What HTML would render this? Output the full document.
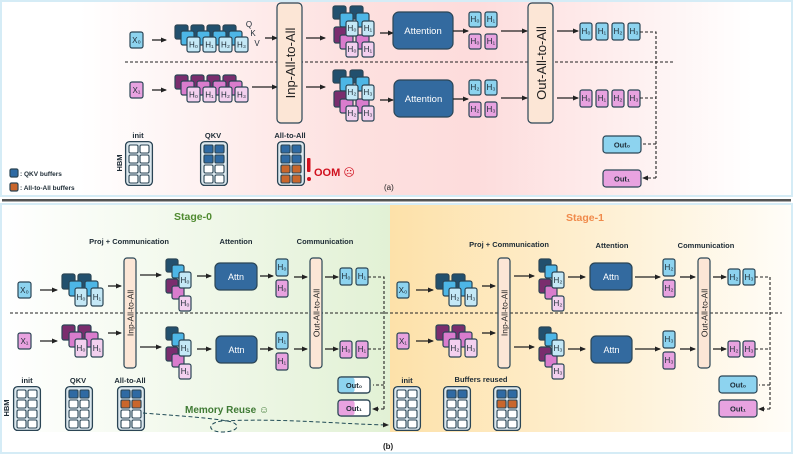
<!DOCTYPE html>
<html><head><meta charset="utf-8"><style>
html,body{margin:0;padding:0;background:#fff}
svg{display:block;font-family:"Liberation Sans","DejaVu Sans",sans-serif}
.b{stroke:#2b4555;stroke-width:1.2}
.t{font-size:8px;fill:#1d2b35;text-anchor:middle}
.lb{font-size:7.5px;font-weight:bold;fill:#1d2b35;text-anchor:middle}
.ar{stroke:#222;stroke-width:1.3;fill:none;marker-end:url(#ah)}
.da{stroke:#222;stroke-width:1.1;fill:none;stroke-dasharray:3,2}
</style></head><body>
<svg width="793" height="454" viewBox="0 0 793 454" xmlns="http://www.w3.org/2000/svg">
<defs>
<marker id="ah" markerWidth="6" markerHeight="6" refX="5" refY="3" orient="auto" markerUnits="userSpaceOnUse"><path d="M0,0.5 L6,3 L0,5.5z" fill="#222"/></marker>
<linearGradient id="pk" x1="0" x2="1" y1="0" y2="0"><stop offset="0.1" stop-color="#fff"/><stop offset="0.45" stop-color="#fde0df"/><stop offset="0.6" stop-color="#fddcdc"/><stop offset="0.95" stop-color="#fff"/></linearGradient>
<linearGradient id="gr" x1="0" x2="1"><stop offset="0" stop-color="#fff"/><stop offset="1" stop-color="#e2f1d5"/></linearGradient>
<linearGradient id="or" x1="0" x2="1"><stop offset="0" stop-color="#fde1a9"/><stop offset="1" stop-color="#fffdf8"/></linearGradient>
<symbol id="grid" width="28" height="45" viewBox="0 0 28 45" overflow="visible">
<rect x="0.6" y="0.6" width="26.8" height="43.8" rx="4" fill="#dce8ee" stroke="#2b4555" stroke-width="1.3"/>
<g fill="#fff" stroke="#2b4555" stroke-width="1.1">
<rect x="4" y="4" width="9" height="8" rx="1.5"/><rect x="15" y="4" width="9" height="8" rx="1.5"/>
<rect x="4" y="14" width="9" height="8" rx="1.5"/><rect x="15" y="14" width="9" height="8" rx="1.5"/>
<rect x="4" y="24" width="9" height="8" rx="1.5"/><rect x="15" y="24" width="9" height="8" rx="1.5"/>
<rect x="4" y="34" width="9" height="8" rx="1.5"/><rect x="15" y="34" width="9" height="8" rx="1.5"/>
</g></symbol>
</defs>

<rect x="1" y="1" width="791" height="195" fill="url(#pk)" stroke="#d5ecf6" stroke-width="2"/>
<rect x="2" y="199" width="789" height="2.5" fill="#555"/>
<rect x="1" y="204" width="791" height="249" fill="#fff" stroke="#d5ecf6" stroke-width="2"/>
<rect x="2" y="205" width="388" height="227" fill="url(#gr)"/>
<rect x="390" y="205" width="401" height="227" fill="url(#or)"/>

<!-- ===== (a) ===== -->
<line x1="125" y1="62" x2="675" y2="62" class="da" stroke-dasharray="4,2"/>
<rect x="130" y="32" width="13" height="16" rx="2" fill="#8dd3ef" class="b"/><text x="136.5" y="43" class="t">X₀</text>
<rect x="130" y="82" width="13" height="16" rx="2" fill="#e8a2e0" class="b"/><text x="136.5" y="93" class="t">X₁</text>
<line x1="152" y1="40" x2="166" y2="40" class="ar"/><line x1="152" y1="90" x2="166" y2="90" class="ar"/>
<g class="b">
<rect x="175" y="25" width="13" height="14" rx="2" fill="#22506e"/><rect x="191" y="25" width="13" height="14" rx="2" fill="#22506e"/><rect x="207" y="25" width="13" height="14" rx="2" fill="#22506e"/><rect x="223" y="25" width="13" height="14" rx="2" fill="#22506e"/>
<rect x="181" y="31" width="13" height="14" rx="2" fill="#4db6e6"/><rect x="197" y="31" width="13" height="14" rx="2" fill="#4db6e6"/><rect x="213" y="31" width="13" height="14" rx="2" fill="#4db6e6"/><rect x="229" y="31" width="13" height="14" rx="2" fill="#4db6e6"/>
<rect x="187" y="37" width="13" height="15" rx="2" fill="#c4e8f6"/><rect x="203" y="37" width="13" height="15" rx="2" fill="#c4e8f6"/><rect x="219" y="37" width="13" height="15" rx="2" fill="#c4e8f6"/><rect x="235" y="37" width="13" height="15" rx="2" fill="#c4e8f6"/>
<rect x="175" y="75" width="13" height="14" rx="2" fill="#7a2d6e"/><rect x="191" y="75" width="13" height="14" rx="2" fill="#7a2d6e"/><rect x="207" y="75" width="13" height="14" rx="2" fill="#7a2d6e"/><rect x="223" y="75" width="13" height="14" rx="2" fill="#7a2d6e"/>
<rect x="181" y="81" width="13" height="14" rx="2" fill="#d97ccd"/><rect x="197" y="81" width="13" height="14" rx="2" fill="#d97ccd"/><rect x="213" y="81" width="13" height="14" rx="2" fill="#d97ccd"/><rect x="229" y="81" width="13" height="14" rx="2" fill="#d97ccd"/>
<rect x="187" y="87" width="13" height="15" rx="2" fill="#f3d0ef"/><rect x="203" y="87" width="13" height="15" rx="2" fill="#f3d0ef"/><rect x="219" y="87" width="13" height="15" rx="2" fill="#f3d0ef"/><rect x="235" y="87" width="13" height="15" rx="2" fill="#f3d0ef"/>
</g>
<text x="193.5" y="47.5" class="t">H₀</text><text x="209.5" y="47.5" class="t">H₁</text><text x="225.5" y="47.5" class="t">H₂</text><text x="241.5" y="47.5" class="t">H₃</text>
<text x="193.5" y="97.5" class="t">H₀</text><text x="209.5" y="97.5" class="t">H₁</text><text x="225.5" y="97.5" class="t">H₂</text><text x="241.5" y="97.5" class="t">H₃</text>
<text x="249" y="27" class="t" font-size="7.5">Q</text><text x="253" y="36" class="t" font-size="7.5">K</text><text x="257" y="46" class="t" font-size="7.5">V</text>
<line x1="265" y1="38" x2="277" y2="38" class="ar"/><line x1="252" y1="87" x2="277" y2="87" class="ar"/>
<rect x="277" y="3" width="25" height="120" rx="4" fill="#fce6d6" class="b"/>
<text transform="translate(295,63) rotate(-90)" font-size="13" fill="#222" text-anchor="middle">Inp-All-to-All</text>
<line x1="306" y1="38" x2="325" y2="38" class="ar"/><line x1="306" y1="87" x2="325" y2="87" class="ar"/>
<g class="b">
<rect x="333" y="6" width="13" height="13" rx="2" fill="#22506e"/><rect x="350" y="6" width="13" height="13" rx="2" fill="#22506e"/>
<rect x="340" y="13" width="13" height="14" rx="2" fill="#4db6e6"/><rect x="356" y="13" width="13" height="14" rx="2" fill="#4db6e6"/>
<rect x="334" y="27" width="13" height="16" rx="2" fill="#7a2d6e"/><rect x="340" y="35" width="13" height="14" rx="2" fill="#d97ccd"/><rect x="356" y="35" width="13" height="14" rx="2" fill="#d97ccd"/>
<rect x="346" y="21" width="12" height="15" rx="2" fill="#c4e8f6"/><rect x="362" y="21" width="12" height="15" rx="2" fill="#c4e8f6"/>
<rect x="346" y="42" width="12" height="15" rx="2" fill="#f3d0ef"/><rect x="362" y="42" width="12" height="15" rx="2" fill="#f3d0ef"/>
<rect x="333" y="70" width="13" height="13" rx="2" fill="#22506e"/><rect x="350" y="70" width="13" height="13" rx="2" fill="#22506e"/>
<rect x="340" y="77" width="13" height="14" rx="2" fill="#4db6e6"/><rect x="356" y="77" width="13" height="14" rx="2" fill="#4db6e6"/>
<rect x="334" y="91" width="13" height="16" rx="2" fill="#7a2d6e"/><rect x="340" y="99" width="13" height="14" rx="2" fill="#d97ccd"/><rect x="356" y="99" width="13" height="14" rx="2" fill="#d97ccd"/>
<rect x="346" y="85" width="12" height="15" rx="2" fill="#c4e8f6"/><rect x="362" y="85" width="12" height="15" rx="2" fill="#c4e8f6"/>
<rect x="346" y="106" width="12" height="15" rx="2" fill="#f3d0ef"/><rect x="362" y="106" width="12" height="15" rx="2" fill="#f3d0ef"/>
</g>
<text x="352" y="31" class="t">H₀</text><text x="368" y="31" class="t">H₁</text><text x="352" y="52" class="t">H₀</text><text x="368" y="52" class="t">H₁</text>
<text x="352" y="95" class="t">H₂</text><text x="368" y="95" class="t">H₃</text><text x="352" y="116" class="t">H₂</text><text x="368" y="116" class="t">H₃</text>
<line x1="380" y1="33" x2="393" y2="33" class="ar"/><line x1="380" y1="100" x2="393" y2="100" class="ar"/>
<rect x="393" y="12" width="60" height="37" rx="6" fill="#336a9f" class="b"/><text x="423" y="34" font-size="9.5" fill="#fff" text-anchor="middle">Attention</text>
<rect x="394" y="80" width="59" height="37" rx="6" fill="#336a9f" class="b"/><text x="423.5" y="102" font-size="9.5" fill="#fff" text-anchor="middle">Attention</text>
<line x1="453" y1="31" x2="468" y2="31" class="ar"/><line x1="453" y1="99" x2="468" y2="99" class="ar"/>
<g class="b">
<rect x="469" y="12" width="12" height="15" rx="2" fill="#8dd3ef"/><rect x="485" y="12" width="12" height="15" rx="2" fill="#8dd3ef"/>
<rect x="469" y="34" width="12" height="15" rx="2" fill="#e8a2e0"/><rect x="485" y="34" width="12" height="15" rx="2" fill="#e8a2e0"/>
<rect x="469" y="80" width="12" height="15" rx="2" fill="#8dd3ef"/><rect x="485" y="80" width="12" height="15" rx="2" fill="#8dd3ef"/>
<rect x="469" y="102" width="12" height="15" rx="2" fill="#e8a2e0"/><rect x="485" y="102" width="12" height="15" rx="2" fill="#e8a2e0"/>
</g>
<text x="475" y="22" class="t">H₀</text><text x="491" y="22" class="t">H₁</text><text x="475" y="44" class="t">H₀</text><text x="491" y="44" class="t">H₁</text>
<text x="475" y="90" class="t">H₂</text><text x="491" y="90" class="t">H₃</text><text x="475" y="112" class="t">H₂</text><text x="491" y="112" class="t">H₃</text>
<line x1="501" y1="31" x2="527" y2="31" class="ar"/><line x1="501" y1="98" x2="527" y2="98" class="ar"/>
<rect x="528" y="3" width="25" height="120" rx="4" fill="#fce6d6" class="b"/>
<text transform="translate(546,63) rotate(-90)" font-size="13" fill="#222" text-anchor="middle">Out-All-to-All</text>
<line x1="557" y1="31" x2="578" y2="31" class="ar"/><line x1="557" y1="98" x2="578" y2="98" class="ar"/>
<g class="b">
<rect x="580" y="23" width="12" height="17" rx="2" fill="#8dd3ef"/><rect x="596" y="23" width="12" height="17" rx="2" fill="#8dd3ef"/><rect x="612" y="23" width="12" height="17" rx="2" fill="#8dd3ef"/><rect x="628" y="23" width="12" height="17" rx="2" fill="#8dd3ef"/>
<rect x="580" y="90" width="12" height="17" rx="2" fill="#e8a2e0"/><rect x="596" y="90" width="12" height="17" rx="2" fill="#e8a2e0"/><rect x="612" y="90" width="12" height="17" rx="2" fill="#e8a2e0"/><rect x="628" y="90" width="12" height="17" rx="2" fill="#e8a2e0"/>
</g>
<text x="586" y="34" class="t">H₀</text><text x="602" y="34" class="t">H₁</text><text x="618" y="34" class="t">H₂</text><text x="634" y="34" class="t">H₃</text>
<text x="586" y="101" class="t">H₀</text><text x="602" y="101" class="t">H₁</text><text x="618" y="101" class="t">H₂</text><text x="634" y="101" class="t">H₃</text>
<path d="M640,32 H656 V178 M640,98 H656" class="da"/>
<path d="M656,144 H643 M656,178 H643" class="da" marker-end="url(#ah)"/>
<rect x="603" y="136" width="38" height="17" rx="3" fill="#8dd3ef" class="b"/><text x="622" y="147.5" class="lb">Out₀</text>
<rect x="603" y="170" width="38" height="17" rx="3" fill="#e8a2e0" class="b"/><text x="622" y="181.5" class="lb">Out₁</text>
<text x="138" y="138" class="lb" font-size="7">init</text><text x="213" y="138" class="lb" font-size="7">QKV</text><text x="290" y="138" class="lb" font-size="7">All-to-All</text>
<text transform="translate(122,163) rotate(-90)" class="lb" font-size="8">HBM</text>
<use href="#grid" x="125" y="141"/><use href="#grid" x="200" y="141"/><use href="#grid" x="277" y="141"/>
<g fill="#2f6aa3" stroke="#2b4555" stroke-width="1.1">
<rect x="204" y="145" width="9" height="8" rx="1.5"/><rect x="215" y="145" width="9" height="8" rx="1.5"/><rect x="204" y="155" width="9" height="8" rx="1.5"/><rect x="215" y="155" width="9" height="8" rx="1.5"/>
<rect x="281" y="145" width="9" height="8" rx="1.5"/><rect x="292" y="145" width="9" height="8" rx="1.5"/><rect x="281" y="155" width="9" height="8" rx="1.5"/><rect x="292" y="155" width="9" height="8" rx="1.5"/>
<rect x="281" y="165" width="9" height="8" rx="1.5" fill="#c9662c"/><rect x="292" y="165" width="9" height="8" rx="1.5" fill="#c9662c"/><rect x="281" y="175" width="9" height="8" rx="1.5" fill="#c9662c"/><rect x="292" y="175" width="9" height="8" rx="1.5" fill="#c9662c"/>
</g>
<rect x="307" y="158" width="3.5" height="14" rx="1" fill="#d0101e"/><circle cx="309" cy="179" r="2" fill="#d0101e"/>
<text x="314" y="176" font-size="11" font-weight="bold" fill="#d0101e">OOM ☹</text>
<rect x="10" y="169" width="8" height="8" rx="1.5" fill="#2f6aa3" class="b"/><text x="20" y="176" font-size="6.5" font-weight="bold" fill="#1d2b35">: QKV buffers</text>
<rect x="10" y="183" width="8" height="8" rx="1.5" fill="#c9662c" class="b"/><text x="20" y="190" font-size="6.5" font-weight="bold" fill="#1d2b35">: All-to-All buffers</text>
<text x="384" y="190" font-size="8" fill="#222">(a)</text>

<!-- ===== (b) ===== -->
<text x="193" y="220" font-size="10.5" font-weight="bold" fill="#4f8a30" text-anchor="middle">Stage-0</text>
<text x="585" y="221" font-size="10.5" font-weight="bold" fill="#f08a4b" text-anchor="middle">Stage-1</text>
<text x="129" y="244" class="lb">Proj + Communication</text><text x="236" y="244" class="lb">Attention</text><text x="325" y="244" class="lb">Communication</text>
<text x="509" y="247" class="lb">Proj + Communication</text><text x="612" y="248" class="lb">Attention</text><text x="706" y="248" class="lb">Communication</text>
<line x1="10" y1="313" x2="782" y2="313" class="da" stroke-dasharray="4,2"/>

<g>
<rect x="18" y="282" width="13" height="16" rx="2" fill="#8dd3ef" class="b"/><text x="24.5" y="293" class="t">X₀</text>
<rect x="18" y="333" width="13" height="16" rx="2" fill="#e8a2e0" class="b"/><text x="24.5" y="344" class="t">X₁</text>
<line x1="40" y1="290" x2="57" y2="290" class="ar"/><line x1="40" y1="341" x2="57" y2="341" class="ar"/>
<g class="b">
<rect x="62" y="274" width="13" height="15" rx="2" fill="#22506e"/><rect x="78" y="274" width="13" height="15" rx="2" fill="#22506e"/>
<rect x="69" y="281" width="13" height="15" rx="2" fill="#4db6e6"/><rect x="85" y="281" width="13" height="15" rx="2" fill="#4db6e6"/>
<rect x="75" y="288" width="12" height="18" rx="2" fill="#c4e8f6"/><rect x="91" y="288" width="12" height="18" rx="2" fill="#c4e8f6"/>
<rect x="62" y="325" width="13" height="15" rx="2" fill="#7a2d6e"/><rect x="78" y="325" width="13" height="15" rx="2" fill="#7a2d6e"/>
<rect x="69" y="332" width="13" height="15" rx="2" fill="#d97ccd"/><rect x="85" y="332" width="13" height="15" rx="2" fill="#d97ccd"/>
<rect x="75" y="339" width="12" height="18" rx="2" fill="#f3d0ef"/><rect x="91" y="339" width="12" height="18" rx="2" fill="#f3d0ef"/>
</g>
<line x1="108" y1="286" x2="121" y2="286" class="ar"/><line x1="108" y1="333" x2="121" y2="333" class="ar"/>
<rect x="124" y="258" width="12" height="110" rx="3" fill="#fce6d6" class="b"/>
<text transform="translate(133.5,313) rotate(-90)" font-size="8.5" fill="#222" text-anchor="middle">Inp-All-to-All</text>
<line x1="140" y1="275" x2="161" y2="275" class="ar"/><line x1="140" y1="347" x2="161" y2="347" class="ar"/>
<g class="b">
<rect x="166" y="259" width="12" height="13" rx="2" fill="#22506e"/><rect x="172" y="265" width="12" height="13" rx="2" fill="#4db6e6"/>
<rect x="166" y="279" width="12" height="14" rx="2" fill="#7a2d6e"/><rect x="172" y="286" width="12" height="13" rx="2" fill="#d97ccd"/>
<rect x="179" y="272" width="12" height="16" rx="2" fill="#c4e8f6"/><rect x="179" y="296" width="12" height="15" rx="2" fill="#f3d0ef"/>
<rect x="166" y="327" width="12" height="13" rx="2" fill="#22506e"/><rect x="172" y="333" width="12" height="13" rx="2" fill="#4db6e6"/>
<rect x="166" y="347" width="12" height="14" rx="2" fill="#7a2d6e"/><rect x="172" y="354" width="12" height="13" rx="2" fill="#d97ccd"/>
<rect x="179" y="340" width="12" height="16" rx="2" fill="#c4e8f6"/><rect x="179" y="364" width="12" height="15" rx="2" fill="#f3d0ef"/>
</g>
<line x1="197" y1="276" x2="211" y2="276" class="ar"/><line x1="197" y1="349" x2="211" y2="349" class="ar"/>
<rect x="215" y="263" width="42" height="27" rx="5" fill="#336a9f" class="b"/><rect x="216" y="336" width="41" height="27" rx="5" fill="#336a9f" class="b"/>
<line x1="260" y1="276" x2="273" y2="276" class="ar"/><line x1="260" y1="349" x2="273" y2="349" class="ar"/>
<g class="b">
<rect x="276" y="259" width="12" height="17" rx="2" fill="#8dd3ef"/><rect x="276" y="280" width="12" height="17" rx="2" fill="#e8a2e0"/>
<rect x="276" y="332" width="12" height="17" rx="2" fill="#8dd3ef"/><rect x="276" y="353" width="12" height="17" rx="2" fill="#e8a2e0"/>
</g>
<line x1="294" y1="277" x2="307" y2="277" class="ar"/><line x1="294" y1="349" x2="307" y2="349" class="ar"/>
<rect x="310" y="258" width="12" height="110" rx="3" fill="#fce6d6" class="b"/>
<text transform="translate(319.5,313) rotate(-90)" font-size="8.5" fill="#222" text-anchor="middle">Out-All-to-All</text>
<line x1="325" y1="277" x2="338" y2="277" class="ar"/><line x1="325" y1="349" x2="338" y2="349" class="ar"/>
</g>
<text x="236" y="280" font-size="9" fill="#fff" text-anchor="middle">Attn</text><text x="236.5" y="353" font-size="9" fill="#fff" text-anchor="middle">Attn</text>
<text x="81" y="300" class="t">H₀</text><text x="97" y="300" class="t">H₁</text><text x="81" y="351" class="t">H₀</text><text x="97" y="351" class="t">H₁</text>
<text x="185" y="283" class="t">H₀</text><text x="185" y="306" class="t">H₀</text><text x="185" y="351" class="t">H₁</text><text x="185" y="374" class="t">H₁</text>
<text x="282" y="270" class="t">H₀</text><text x="282" y="291" class="t">H₀</text><text x="282" y="343" class="t">H₁</text><text x="282" y="364" class="t">H₁</text>

<g transform="translate(378,0)">
<rect x="19" y="282" width="12" height="16" rx="2" fill="#8dd3ef" class="b"/><text x="25" y="293" class="t">X₀</text>
<rect x="19" y="333" width="12" height="16" rx="2" fill="#e8a2e0" class="b"/><text x="25" y="344" class="t">X₁</text>
<line x1="38" y1="290" x2="55" y2="290" class="ar"/><line x1="38" y1="341" x2="55" y2="341" class="ar"/>
<g class="b">
<rect x="58" y="274" width="13" height="15" rx="2" fill="#22506e"/><rect x="74" y="274" width="13" height="15" rx="2" fill="#22506e"/>
<rect x="65" y="281" width="13" height="15" rx="2" fill="#4db6e6"/><rect x="81" y="281" width="13" height="15" rx="2" fill="#4db6e6"/>
<rect x="71" y="288" width="12" height="18" rx="2" fill="#c4e8f6"/><rect x="87" y="288" width="12" height="18" rx="2" fill="#c4e8f6"/>
<rect x="58" y="325" width="13" height="15" rx="2" fill="#7a2d6e"/><rect x="74" y="325" width="13" height="15" rx="2" fill="#7a2d6e"/>
<rect x="65" y="332" width="13" height="15" rx="2" fill="#d97ccd"/><rect x="81" y="332" width="13" height="15" rx="2" fill="#d97ccd"/>
<rect x="71" y="339" width="12" height="18" rx="2" fill="#f3d0ef"/><rect x="87" y="339" width="12" height="18" rx="2" fill="#f3d0ef"/>
</g>
<text x="77" y="300" class="t">H₂</text><text x="93" y="300" class="t">H₃</text><text x="77" y="351" class="t">H₂</text><text x="93" y="351" class="t">H₃</text>
<line x1="104" y1="286" x2="117" y2="286" class="ar"/><line x1="104" y1="333" x2="117" y2="333" class="ar"/>
<rect x="120" y="258" width="12" height="110" rx="3" fill="#fce6d6" class="b"/>
<text transform="translate(129.5,313) rotate(-90)" font-size="8.5" fill="#222" text-anchor="middle">Inp-All-to-All</text>
<line x1="136" y1="276" x2="156" y2="276" class="ar"/><line x1="136" y1="347" x2="156" y2="347" class="ar"/>
<g class="b">
<rect x="161" y="259" width="12" height="13" rx="2" fill="#22506e"/><rect x="167" y="265" width="12" height="13" rx="2" fill="#4db6e6"/>
<rect x="161" y="279" width="12" height="14" rx="2" fill="#7a2d6e"/><rect x="167" y="286" width="12" height="13" rx="2" fill="#d97ccd"/>
<rect x="174" y="272" width="12" height="16" rx="2" fill="#c4e8f6"/><rect x="174" y="296" width="12" height="15" rx="2" fill="#f3d0ef"/>
<rect x="161" y="327" width="12" height="13" rx="2" fill="#22506e"/><rect x="167" y="333" width="12" height="13" rx="2" fill="#4db6e6"/>
<rect x="161" y="347" width="12" height="14" rx="2" fill="#7a2d6e"/><rect x="167" y="354" width="12" height="13" rx="2" fill="#d97ccd"/>
<rect x="174" y="340" width="12" height="16" rx="2" fill="#c4e8f6"/><rect x="174" y="364" width="12" height="15" rx="2" fill="#f3d0ef"/>
</g>
<text x="180" y="283" class="t">H₂</text><text x="180" y="306" class="t">H₂</text><text x="180" y="351" class="t">H₃</text><text x="180" y="374" class="t">H₃</text>
<line x1="190" y1="277" x2="207" y2="277" class="ar"/><line x1="190" y1="349" x2="207" y2="349" class="ar"/>
<rect x="212" y="263" width="42" height="27" rx="5" fill="#336a9f" class="b"/><rect x="213" y="336" width="41" height="27" rx="5" fill="#336a9f" class="b"/>
<text x="233" y="280" font-size="9" fill="#fff" text-anchor="middle">Attn</text><text x="233.5" y="353" font-size="9" fill="#fff" text-anchor="middle">Attn</text>
<line x1="257" y1="277" x2="282" y2="277" class="ar"/><line x1="257" y1="349" x2="282" y2="349" class="ar"/>
<g class="b">
<rect x="285" y="259" width="12" height="17" rx="2" fill="#8dd3ef"/><rect x="285" y="280" width="12" height="17" rx="2" fill="#e8a2e0"/>
<rect x="285" y="331" width="12" height="17" rx="2" fill="#8dd3ef"/><rect x="285" y="352" width="12" height="17" rx="2" fill="#e8a2e0"/>
</g>
<text x="291" y="270" class="t">H₂</text><text x="291" y="291" class="t">H₂</text><text x="291" y="342" class="t">H₃</text><text x="291" y="363" class="t">H₃</text>
<line x1="302" y1="277" x2="317" y2="277" class="ar"/><line x1="302" y1="349" x2="317" y2="349" class="ar"/>
<rect x="320" y="258" width="12" height="110" rx="3" fill="#fce6d6" class="b"/>
<text transform="translate(329.5,313) rotate(-90)" font-size="8.5" fill="#222" text-anchor="middle">Out-All-to-All</text>
<line x1="335" y1="277" x2="348" y2="277" class="ar"/><line x1="335" y1="349" x2="348" y2="349" class="ar"/>
<g class="b">
<rect x="350" y="269" width="12" height="16" rx="2" fill="#8dd3ef"/><rect x="365" y="269" width="12" height="16" rx="2" fill="#8dd3ef"/>
<rect x="350" y="341" width="12" height="16" rx="2" fill="#e8a2e0"/><rect x="365" y="341" width="12" height="16" rx="2" fill="#e8a2e0"/>
</g>
<text x="356" y="280" class="t">H₂</text><text x="371" y="280" class="t">H₃</text><text x="356" y="352" class="t">H₂</text><text x="371" y="352" class="t">H₃</text>
<path d="M377,277 H392 V409 M377,349 H392" class="da"/>
<path d="M392,385 H381 M392,409 H381" class="da" marker-end="url(#ah)"/>
<rect x="341" y="376" width="38" height="17" rx="3" fill="#8dd3ef" class="b"/><text x="360" y="387.5" class="lb">Out₀</text>
<rect x="341" y="400" width="38" height="17" rx="3" fill="#e8a2e0" class="b"/><text x="360" y="411.5" class="lb">Out₁</text>
</g>

<g class="b">
<rect x="340" y="268" width="12" height="17" rx="2" fill="#8dd3ef"/><rect x="356" y="268" width="12" height="17" rx="2" fill="#8dd3ef"/>
<rect x="340" y="341" width="12" height="17" rx="2" fill="#e8a2e0"/><rect x="356" y="341" width="12" height="17" rx="2" fill="#e8a2e0"/>
</g>
<text x="346" y="279" class="t">H₀</text><text x="362" y="279" class="t">H₁</text><text x="346" y="352" class="t">H₀</text><text x="362" y="352" class="t">H₁</text>
<path d="M368,277 H384 V409 M368,349 H384" class="da"/>
<path d="M384,385 H373 M384,409 H373" class="da" marker-end="url(#ah)"/>
<rect x="338" y="377" width="32" height="16" rx="3" fill="#fff" class="b"/><rect x="338.6" y="377.6" width="16" height="14.8" rx="2.5" fill="#8dd3ef"/><rect x="338" y="377" width="32" height="16" rx="3" fill="none" class="b"/><text x="354" y="388" class="lb">Out₀</text>
<rect x="338" y="400" width="32" height="16" rx="3" fill="#fff" class="b"/><rect x="338.6" y="400.6" width="16" height="14.8" rx="2.5" fill="#e8a2e0"/><rect x="338" y="400" width="32" height="16" rx="3" fill="none" class="b"/><text x="354" y="411" class="lb">Out₁</text>

<text x="27" y="383" class="lb" font-size="7">init</text><text x="78" y="383" class="lb" font-size="7">QKV</text><text x="130" y="383" class="lb" font-size="7">All-to-All</text>
<text transform="translate(9,408) rotate(-90)" class="lb" font-size="8">HBM</text>
<use href="#grid" x="13" y="386"/><use href="#grid" x="65" y="386"/><use href="#grid" x="117" y="386"/>
<text x="407" y="383" class="lb" font-size="7">init</text><text x="481" y="382" class="lb" font-size="7">Buffers reused</text>
<use href="#grid" x="393" y="386"/><use href="#grid" x="443" y="386"/><use href="#grid" x="493" y="386"/>
<g fill="#2f6aa3" stroke="#2b4555" stroke-width="1.1">
<rect x="69" y="390" width="9" height="8" rx="1.5"/><rect x="80" y="390" width="9" height="8" rx="1.5"/>
<rect x="121" y="390" width="9" height="8" rx="1.5"/><rect x="132" y="390" width="9" height="8" rx="1.5"/>
<rect x="121" y="400" width="9" height="8" rx="1.5" fill="#c9662c"/><rect x="132" y="400" width="9" height="8" rx="1.5" fill="#c9662c"/>
<rect x="447" y="390" width="9" height="8" rx="1.5"/><rect x="458" y="390" width="9" height="8" rx="1.5"/>
<rect x="497" y="390" width="9" height="8" rx="1.5"/><rect x="508" y="390" width="9" height="8" rx="1.5"/>
<rect x="497" y="400" width="9" height="8" rx="1.5" fill="#c9662c"/><rect x="508" y="400" width="9" height="8" rx="1.5" fill="#c9662c"/>
</g>
<text x="185" y="413" font-size="10" font-weight="bold" fill="#3f7a34">Memory Reuse ☺</text>
<path d="M143,413 C180,416 215,418 232,422 C242,426 236,432 222,432 C208,432 206,423 222,421 C280,418 340,424 388,425" stroke="#1f4a55" stroke-width="1" fill="none" stroke-dasharray="4,2.5" marker-end="url(#ah)"/>
<text x="383" y="449" font-size="8" font-weight="bold" fill="#222">(b)</text>
</svg>
</body></html>
